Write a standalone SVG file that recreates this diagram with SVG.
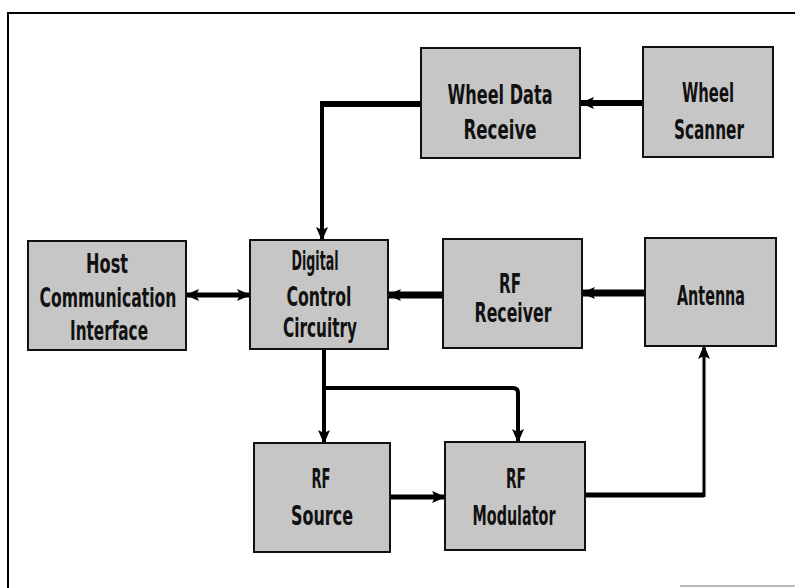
<svg xmlns="http://www.w3.org/2000/svg" width="795" height="588" viewBox="0 0 795 588">
<defs>
<marker id="ah" viewBox="0 0 14 12" refX="13" refY="6" markerWidth="14" markerHeight="12" markerUnits="userSpaceOnUse" orient="auto-start-reverse">
<path d="M0,0 L14,6 L0,12 L3,6 Z" fill="#000"/>
</marker>
</defs>
<style>
.box{fill:#c6c6c6;stroke:#111;stroke-width:2}
.t{font-family:"DejaVu Sans Condensed","DejaVu Sans",sans-serif;font-weight:bold;font-size:27px;fill:#111;text-anchor:middle}
.c{fill:none;stroke:#000;stroke-linejoin:round}
</style>
<rect width="795" height="588" fill="#fff"/>
<g id="frame">
<path d="M8,588 V13 H795" fill="none" stroke="#000" stroke-width="2"/>
<line x1="680" y1="586" x2="795" y2="586" stroke="#bbb" stroke-width="2"/>
</g>
<g id="connectors">
<line class="c" x1="643" y1="103" x2="581" y2="103" stroke-width="6" marker-end="url(#ah)"/>
<path class="c" d="M421,104 H322" stroke-width="6"/>
<path class="c" d="M322,101 V240" stroke-width="4" marker-end="url(#ah)"/>
<line class="c" x1="186" y1="295" x2="250" y2="295" stroke-width="5" marker-start="url(#ah)" marker-end="url(#ah)"/>
<line class="c" x1="443" y1="295" x2="388" y2="295" stroke-width="7" marker-end="url(#ah)"/>
<line class="c" x1="645" y1="293" x2="582" y2="293" stroke-width="7" marker-end="url(#ah)"/>
<line class="c" x1="324" y1="349" x2="324" y2="443" stroke-width="4" marker-end="url(#ah)"/>
<path class="c" d="M324,388 H513 Q518,388 518,393 V442" stroke-width="4" marker-end="url(#ah)"/>
<line class="c" x1="390" y1="497" x2="445" y2="497" stroke-width="5" marker-end="url(#ah)"/>
<path class="c" d="M585,495 H704" stroke-width="5"/>
<path class="c" d="M704,497 V346" stroke-width="3" marker-end="url(#ah)"/>
</g>
<g id="wheel-data-receive">
<rect class="box" x="421" y="48" width="159" height="110"/>
<text class="t" x="500" y="104" textLength="105" lengthAdjust="spacingAndGlyphs">Wheel Data</text>
<text class="t" x="500" y="139" textLength="73" lengthAdjust="spacingAndGlyphs">Receive</text>
</g>
<g id="wheel-scanner">
<rect class="box" x="643" y="47" width="130" height="110"/>
<text class="t" x="708" y="102" textLength="52" lengthAdjust="spacingAndGlyphs">Wheel</text>
<text class="t" x="709" y="139" textLength="70" lengthAdjust="spacingAndGlyphs">Scanner</text>
</g>
<g id="host-communication-interface">
<rect class="box" x="28" y="241" width="158" height="109"/>
<text class="t" x="107" y="273" textLength="42" lengthAdjust="spacingAndGlyphs">Host</text>
<text class="t" x="108" y="307" textLength="137" lengthAdjust="spacingAndGlyphs">Communication</text>
<text class="t" x="109" y="340" textLength="78" lengthAdjust="spacingAndGlyphs">Interface</text>
</g>
<g id="digital-control-circuitry">
<rect class="box" x="250" y="240" width="138" height="109"/>
<text class="t" x="315" y="270" textLength="47" lengthAdjust="spacingAndGlyphs">Digital</text>
<text class="t" x="319" y="306" textLength="65" lengthAdjust="spacingAndGlyphs">Control</text>
<text class="t" x="320" y="337" textLength="74" lengthAdjust="spacingAndGlyphs">Circuitry</text>
</g>
<g id="rf-receiver">
<rect class="box" x="443" y="239" width="139" height="109"/>
<text class="t" x="510" y="293" textLength="22" lengthAdjust="spacingAndGlyphs">RF</text>
<text class="t" x="513" y="322" textLength="77" lengthAdjust="spacingAndGlyphs">Receiver</text>
</g>
<g id="antenna">
<rect class="box" x="645" y="238" width="131" height="108"/>
<text class="t" x="711" y="305" textLength="68" lengthAdjust="spacingAndGlyphs">Antenna</text>
</g>
<g id="rf-source">
<rect class="box" x="254" y="443" width="136" height="109"/>
<text class="t" x="321" y="488" textLength="19" lengthAdjust="spacingAndGlyphs">RF</text>
<text class="t" x="322" y="525" textLength="62" lengthAdjust="spacingAndGlyphs">Source</text>
</g>
<g id="rf-modulator">
<rect class="box" x="445" y="442" width="140" height="108"/>
<text class="t" x="516" y="488" textLength="20" lengthAdjust="spacingAndGlyphs">RF</text>
<text class="t" x="514" y="525" textLength="83" lengthAdjust="spacingAndGlyphs">Modulator</text>
</g>
</svg>
